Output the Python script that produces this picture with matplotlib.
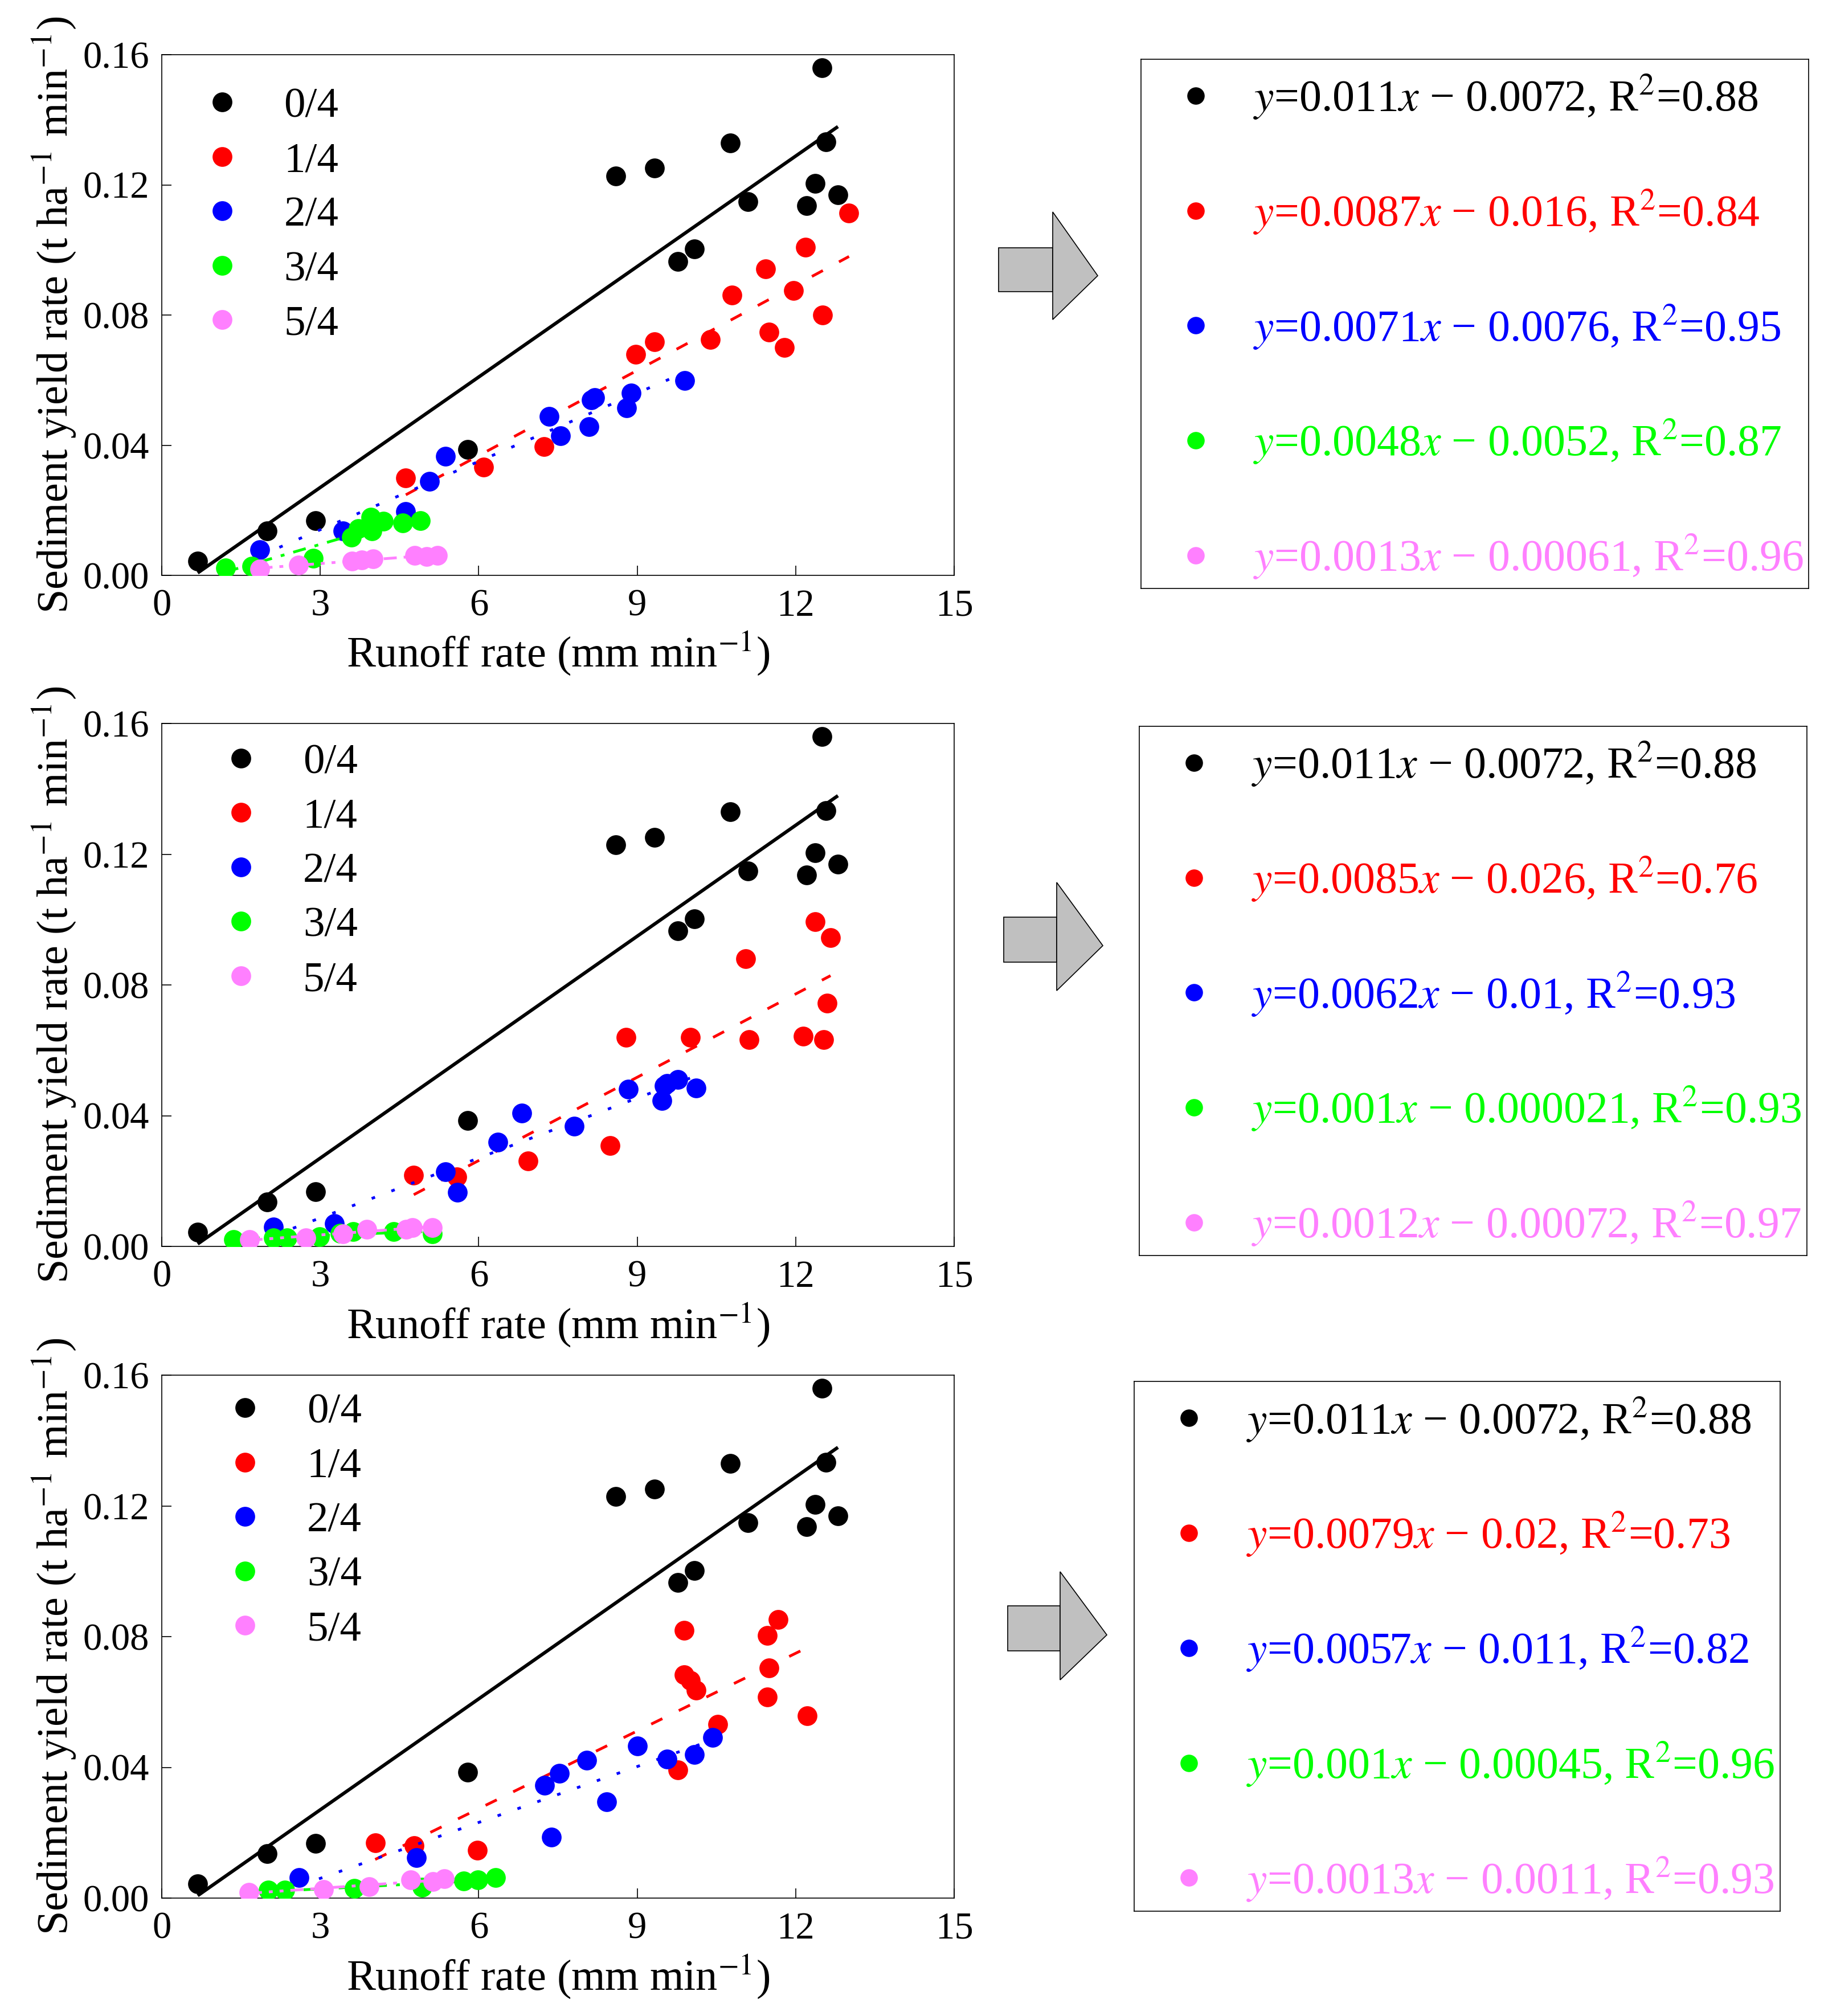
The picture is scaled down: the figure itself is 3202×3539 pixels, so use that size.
import numpy as np
import matplotlib
matplotlib.use("Agg")
import matplotlib.pyplot as plt
from matplotlib.lines import Line2D
from matplotlib.patches import Polygon
from matplotlib.ticker import FormatStrFormatter

plt.rcParams['font.family'] = ['Liberation Serif', 'DejaVu Serif']
plt.rcParams['mathtext.fontset'] = 'stix'
plt.rcParams['axes.unicode_minus'] = True

# ---------------- data ----------------
series_names = ["0/4", "1/4", "2/4", "3/4", "5/4"]
series_colors = ["#000000", "#FF0000", "#0000FF", "#00FF00", "#FF80FF"]

# 0/4 (same in all three panels)
runoff_04 = [0.68, 1.99, 2.91, 5.79, 8.59, 9.33, 9.77, 10.08, 10.76, 11.10, 12.21, 12.37, 12.50, 12.57, 12.80]
sed_04 = [0.0043, 0.0136, 0.0168, 0.0386, 0.1228, 0.1251, 0.0965, 0.1003, 0.1329, 0.1149, 0.1136, 0.1204, 0.1560, 0.1333, 0.1169]

# panel 1
p1_runoff_14 = [4.62, 6.09, 7.24, 8.97, 9.33, 10.38, 10.79, 11.43, 11.50, 11.79, 11.96, 12.19, 12.51, 13.01]
p1_sed_14 = [0.0300, 0.0333, 0.0395, 0.0680, 0.0717, 0.0725, 0.0862, 0.0942, 0.0747, 0.0701, 0.0875, 0.1008, 0.0800, 0.1113]
p1_runoff_24 = [1.86, 3.43, 4.61, 5.07, 5.37, 7.33, 7.55, 8.09, 8.13, 8.20, 8.80, 8.89, 9.90]
p1_sed_24 = [0.0078, 0.0137, 0.0196, 0.0288, 0.0366, 0.0489, 0.0429, 0.0457, 0.0539, 0.0546, 0.0514, 0.0561, 0.0599]
p1_runoff_34 = [1.21, 1.70, 2.87, 3.59, 3.72, 3.96, 3.98, 4.20, 4.56, 4.90]
p1_sed_34 = [0.0023, 0.0028, 0.0053, 0.0117, 0.0143, 0.0178, 0.0137, 0.0166, 0.0161, 0.0168]
p1_runoff_54 = [1.85, 2.59, 3.60, 3.79, 4.00, 4.79, 5.01, 5.22]
p1_sed_54 = [0.0020, 0.0032, 0.0044, 0.0047, 0.0050, 0.0062, 0.0058, 0.0061]

# panel 2
p2_runoff_14 = [4.77, 5.59, 6.93, 8.49, 8.79, 10.01, 11.05, 11.12, 12.14, 12.37, 12.53, 12.59, 12.66]
p2_sed_14 = [0.0217, 0.0212, 0.0262, 0.0308, 0.0640, 0.0640, 0.0881, 0.0633, 0.0643, 0.0993, 0.0633, 0.0744, 0.0944]
p2_runoff_24 = [2.11, 3.27, 5.37, 5.60, 6.36, 6.82, 7.81, 8.83, 9.47, 9.51, 9.56, 9.77, 10.12]
p2_sed_24 = [0.0060, 0.0070, 0.0228, 0.0166, 0.0319, 0.0407, 0.0367, 0.0481, 0.0446, 0.0492, 0.0498, 0.0511, 0.0485]
p2_runoff_34 = [1.36, 2.11, 2.37, 2.99, 3.37, 3.62, 4.39, 5.12]
p2_sed_34 = [0.0021, 0.0027, 0.0027, 0.0030, 0.0040, 0.0045, 0.0045, 0.0039]
p2_runoff_54 = [1.66, 2.73, 3.43, 3.88, 4.63, 4.74, 5.12]
p2_sed_54 = [0.0021, 0.0026, 0.0039, 0.0053, 0.0053, 0.0058, 0.0058]

# panel 3
p3_runoff_14 = [4.04, 4.78, 5.97, 9.77, 9.89, 9.89, 10.01, 10.12, 10.53, 11.46, 11.49, 11.46, 11.67, 12.22]
p3_sed_14 = [0.0169, 0.0160, 0.0146, 0.0393, 0.0819, 0.0683, 0.0666, 0.0636, 0.0531, 0.0803, 0.0705, 0.0616, 0.0852, 0.0557]
p3_runoff_24 = [2.60, 4.82, 7.25, 7.38, 7.53, 8.04, 8.42, 9.00, 9.56, 10.08, 10.43]
p3_sed_24 = [0.0062, 0.0123, 0.0345, 0.0187, 0.0381, 0.0421, 0.0295, 0.0465, 0.0426, 0.0439, 0.0491]
p3_runoff_34 = [2.02, 2.33, 3.65, 4.93, 5.72, 5.99, 6.32]
p3_sed_34 = [0.0024, 0.0024, 0.0030, 0.0033, 0.0053, 0.0055, 0.0062]
p3_runoff_54 = [1.65, 3.06, 3.93, 4.71, 5.13, 5.35]
p3_sed_54 = [0.0018, 0.0027, 0.0035, 0.0056, 0.0050, 0.0059]

# fitted equations shown in the boxes
p1_equations = [r"$y$=0.011$x$ − 0.0072, R$^{2}$=0.88",
                r"$y$=0.0087$x$ − 0.016, R$^{2}$=0.84",
                r"$y$=0.0071$x$ − 0.0076, R$^{2}$=0.95",
                r"$y$=0.0048$x$ − 0.0052, R$^{2}$=0.87",
                r"$y$=0.0013$x$ − 0.00061, R$^{2}$=0.96"]
p2_equations = [r"$y$=0.011$x$ − 0.0072, R$^{2}$=0.88",
                r"$y$=0.0085$x$ − 0.026, R$^{2}$=0.76",
                r"$y$=0.0062$x$ − 0.01, R$^{2}$=0.93",
                r"$y$=0.001$x$ − 0.000021, R$^{2}$=0.93",
                r"$y$=0.0012$x$ − 0.00072, R$^{2}$=0.97"]
p3_equations = [r"$y$=0.011$x$ − 0.0072, R$^{2}$=0.88",
                r"$y$=0.0079$x$ − 0.02, R$^{2}$=0.73",
                r"$y$=0.0057$x$ − 0.011, R$^{2}$=0.82",
                r"$y$=0.001$x$ − 0.00045, R$^{2}$=0.96",
                r"$y$=0.0013$x$ − 0.0011, R$^{2}$=0.93"]

x_ticks = [0, 3, 6, 9, 12, 15]
y_ticks = [0.00, 0.04, 0.08, 0.12, 0.16]

panels = [
    ([runoff_04, p1_runoff_14, p1_runoff_24, p1_runoff_34, p1_runoff_54],
     [sed_04, p1_sed_14, p1_sed_24, p1_sed_34, p1_sed_54], p1_equations),
    ([runoff_04, p2_runoff_14, p2_runoff_24, p2_runoff_34, p2_runoff_54],
     [sed_04, p2_sed_14, p2_sed_24, p2_sed_34, p2_sed_54], p2_equations),
    ([runoff_04, p3_runoff_14, p3_runoff_24, p3_runoff_34, p3_runoff_54],
     [sed_04, p3_sed_14, p3_sed_24, p3_sed_34, p3_sed_54], p3_equations),
]

# ---------------- layout (pixels of a 3202 x 3539 canvas) ----------------
W, H = 3202, 3539
fig = plt.figure(figsize=(W / 100, H / 100), dpi=100)


def frac_box(l, t, r, b):
    return [l / W, 1 - b / H, (r - l) / W, (b - t) / H]


def fpt(x, y):
    return (x / W, 1 - y / H)


axes_px = [(284, 96, 1675, 1010), (284, 1270, 1675, 2188), (284, 2414, 1675, 3332)]
box_px = [(2003, 104, 3175, 1033), (2000, 1275, 3172, 2204), (1991, 2425, 3125, 3355)]
legend_anchor = [(0.049, 0.691), (0.073, 0.717), (0.078, 0.721)]
box_anchor = [(0.049, 0.494), (0.049, 0.494), (0.050, 0.494)]
arrows = [
    ((1753, 435, 1848, 512), ((1848, 372), (1927, 484), (1848, 561))),
    ((1762, 1610, 1855, 1689), ((1855, 1549), (1936, 1660), (1855, 1739))),
    ((1769, 2819, 1861, 2898), ((1861, 2759), (1943, 2870), (1861, 2949))),
]

line_styles = [
    dict(ls='-', lw=4.3),
    dict(lw=3.5, dashes=(4.5, 6.6)),
    dict(lw=3.5, dashes=(1.3, 6.3)),
    dict(lw=3.5, dashes=(4.7, 3.3, 1.4, 3.3)),
    dict(lw=3.5, dashes=(4.7, 2.5, 1.4, 2.5, 1.4, 2.5)),
]

tick_fs = 48
label_fs = 55
leg_fs = 54
box_fs = 56
msize = 25
box_msize = 22

for i, (xs_list, ys_list, eqs) in enumerate(panels):
    ax = fig.add_axes(frac_box(*axes_px[i]))
    for k in range(5):
        x = np.asarray(xs_list[k])
        y = np.asarray(ys_list[k])
        ax.plot(x, y, 'o', color=series_colors[k], markersize=msize,
                markeredgewidth=0, label=series_names[k], zorder=3 + 2 * k)
        coef = np.polyfit(x, y, 1)
        xx = np.array([x.min(), x.max()])
        ax.plot(xx, np.polyval(coef, xx), color=series_colors[k],
                solid_capstyle='butt', dash_capstyle='butt',
                zorder=4 + 2 * k, **line_styles[k])
    ax.set_xlim(0, 15)
    ax.set_ylim(0, 0.16)
    ax.set_xticks(x_ticks)
    ax.set_yticks(y_ticks)
    ax.yaxis.set_major_formatter(FormatStrFormatter('%.2f'))
    ax.tick_params(direction='in', length=12, width=1.2, labelsize=tick_fs,
                   top=False, right=False)
    ax.tick_params(axis='x', pad=17)
    ax.tick_params(axis='y', pad=16)
    for s in ax.spines.values():
        s.set_linewidth(1.2)
    ax.set_xlabel(r"Runoff rate (mm min$^{-1}$)", fontsize=label_fs)
    ax.set_ylabel(r"Sediment yield rate (t ha$^{-1}$ min$^{-1}$)", fontsize=label_fs)
    ax.xaxis.set_label_coords(0.5, -0.105)
    ax.yaxis.set_label_coords(-0.106, 0.5)

    handles = [Line2D([], [], ls='none', marker='o', color=c, markersize=msize,
                      markeredgewidth=0) for c in series_colors]
    ax.legend(handles, series_names, loc='center left',
              bbox_to_anchor=legend_anchor[i], frameon=False,
              fontsize=leg_fs, handlelength=1.0, handletextpad=0.95,
              labelspacing=0.36, borderpad=0, borderaxespad=0)

    # equation box
    bx = fig.add_axes(frac_box(*box_px[i]))
    bx.set_xticks([])
    bx.set_yticks([])
    for s in bx.spines.values():
        s.set_linewidth(1.2)
    box_handles = [Line2D([], [], ls='none', marker='o', color=c,
                          markersize=box_msize, markeredgewidth=0)
                   for c in series_colors]
    bx.legend(box_handles, eqs, loc='center left', bbox_to_anchor=box_anchor[i],
              frameon=False, fontsize=box_fs, handlelength=1.0,
              handletextpad=0.8, labelspacing=1.50, borderpad=0,
              borderaxespad=0, labelcolor=series_colors)

    # arrow
    (rl, rt, rr, rb), tri = arrows[i]
    rect = Polygon([fpt(rl, rt), fpt(rr, rt), fpt(rr, rb), fpt(rl, rb)],
                   closed=True, transform=fig.transFigure,
                   facecolor='#C0C0C0', edgecolor='black', lw=1.2)
    head = Polygon([fpt(*p) for p in tri], closed=True,
                   transform=fig.transFigure, facecolor='#C0C0C0',
                   edgecolor='black', lw=1.2)
    fig.add_artist(rect)
    fig.add_artist(head)

fig.savefig("out.png", dpi=100, facecolor='white')
